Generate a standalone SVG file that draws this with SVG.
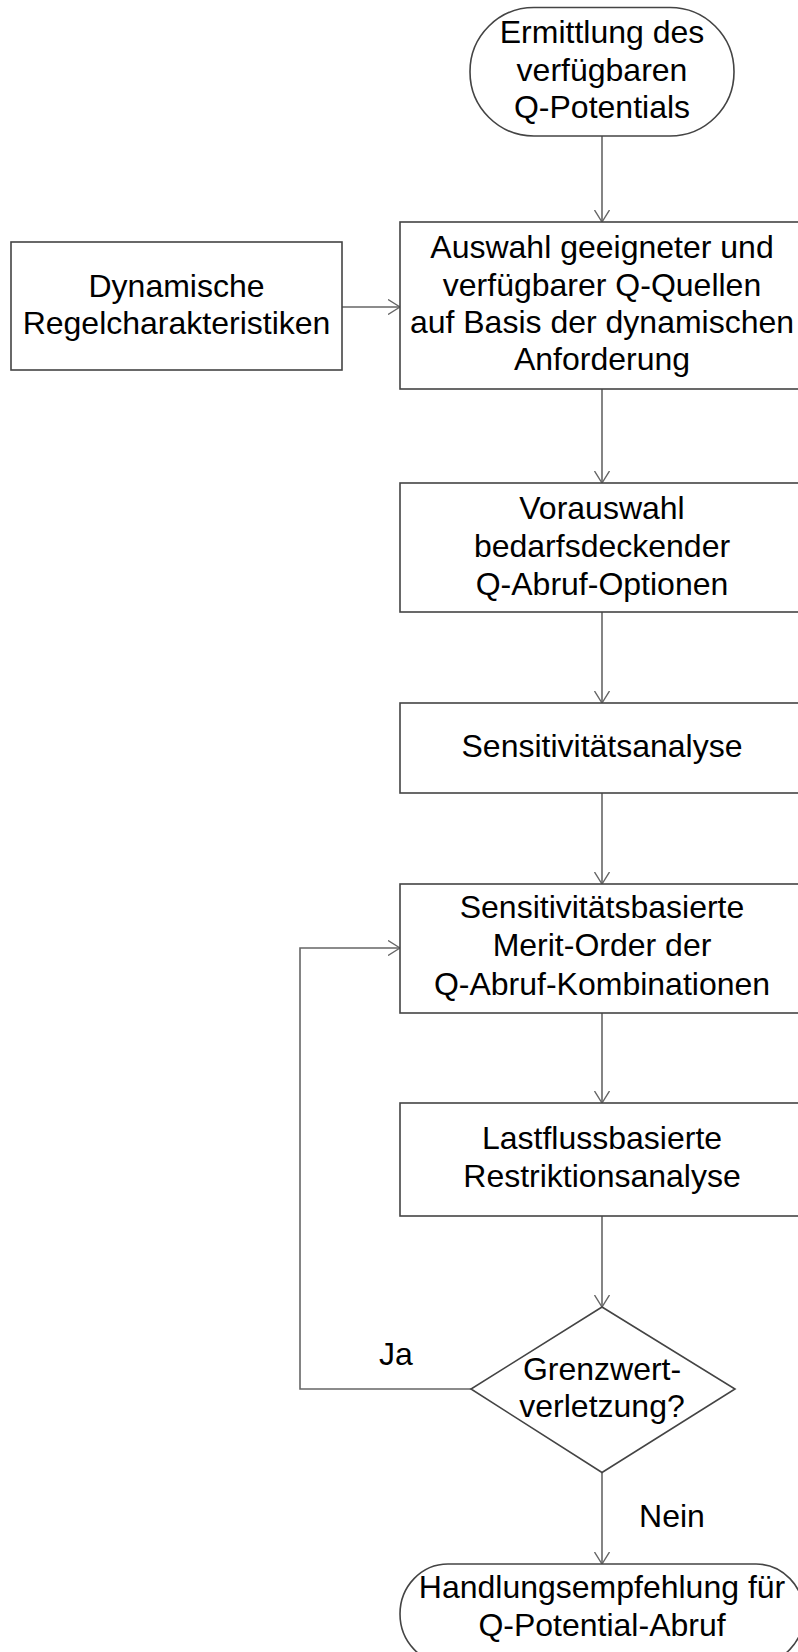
<svg xmlns="http://www.w3.org/2000/svg" width="798" height="1652" viewBox="0 0 798 1652">
<style>
.s{fill:#fff;stroke:#444;stroke-width:1.6}
.t{font-family:"Liberation Sans",Arial,sans-serif;font-size:32px;fill:#000;text-anchor:middle}
.c{fill:none;stroke:#666;stroke-width:1.6}
</style>
<defs>
<marker id="a" viewBox="0 0 12 16" refX="12" refY="8" markerWidth="12" markerHeight="16" markerUnits="userSpaceOnUse" orient="auto">
<path d="M0,0.5 L12,8 L0,15.5" fill="none" stroke="#666" stroke-width="1.4"/>
</marker>
</defs>
<rect width="798" height="1652" fill="#fff"/>
<g id="connectors">
<path class="c" d="M602,136 V222" marker-end="url(#a)"/>
<path class="c" d="M342,307 H400" marker-end="url(#a)"/>
<path class="c" d="M602,389 V483" marker-end="url(#a)"/>
<path class="c" d="M602,612 V703" marker-end="url(#a)"/>
<path class="c" d="M602,793 V884" marker-end="url(#a)"/>
<path class="c" d="M602,1013 V1103" marker-end="url(#a)"/>
<path class="c" d="M602,1216 V1307" marker-end="url(#a)"/>
<path class="c" d="M471,1389 H300 V948 H400" marker-end="url(#a)"/>
<path class="c" d="M602,1472 V1564" marker-end="url(#a)"/>
<text class="t" x="396" y="1365">Ja</text>
<text class="t" x="672" y="1527">Nein</text>
</g>
<g id="start">
<rect class="s" x="470" y="7.5" width="264" height="128.5" rx="64" ry="64"/>
<text class="t" x="602" y="43">Ermittlung des</text>
<text class="t" x="602" y="80.5">verfügbaren</text>
<text class="t" x="602" y="118">Q-Potentials</text>
</g>
<g id="dyn">
<rect class="s" x="11" y="242" width="331" height="128"/>
<text class="t" x="176.5" y="296.5">Dynamische</text>
<text class="t" x="176.5" y="333.5">Regelcharakteristiken</text>
</g>
<g id="auswahl">
<rect class="s" x="400" y="222" width="405" height="167"/>
<text class="t" x="602" y="258">Auswahl geeigneter und</text>
<text class="t" x="602" y="296">verfügbarer Q-Quellen</text>
<text class="t" x="602" y="333">auf Basis der dynamischen</text>
<text class="t" x="602" y="370">Anforderung</text>
</g>
<g id="vorauswahl">
<rect class="s" x="400" y="483" width="405" height="129"/>
<text class="t" x="602" y="518.5">Vorauswahl</text>
<text class="t" x="602" y="556.5">bedarfsdeckender</text>
<text class="t" x="602" y="595">Q-Abruf-Optionen</text>
</g>
<g id="sensitivitaet">
<rect class="s" x="400" y="703" width="405" height="90"/>
<text class="t" x="602" y="757">Sensitivitätsanalyse</text>
</g>
<g id="meritorder">
<rect class="s" x="400" y="884" width="405" height="129"/>
<text class="t" x="602" y="917.5">Sensitivitätsbasierte</text>
<text class="t" x="602" y="956">Merit-Order der</text>
<text class="t" x="602" y="995">Q-Abruf-Kombinationen</text>
</g>
<g id="lastfluss">
<rect class="s" x="400" y="1103" width="405" height="113"/>
<text class="t" x="602" y="1148.5">Lastflussbasierte</text>
<text class="t" x="602" y="1187">Restriktionsanalyse</text>
</g>
<g id="entscheidung">
<polygon class="s" points="602,1307 735,1389 602,1472.5 471,1389"/>
<text class="t" x="602" y="1379.5">Grenzwert-</text>
<text class="t" x="602" y="1417">verletzung?</text>
</g>
<g id="ende">
<rect class="s" x="400" y="1564" width="404" height="100" rx="48" ry="50"/>
<text class="t" x="602" y="1598">Handlungsempfehlung für</text>
<text class="t" x="602" y="1636">Q-Potential-Abruf</text>
</g>
</svg>
